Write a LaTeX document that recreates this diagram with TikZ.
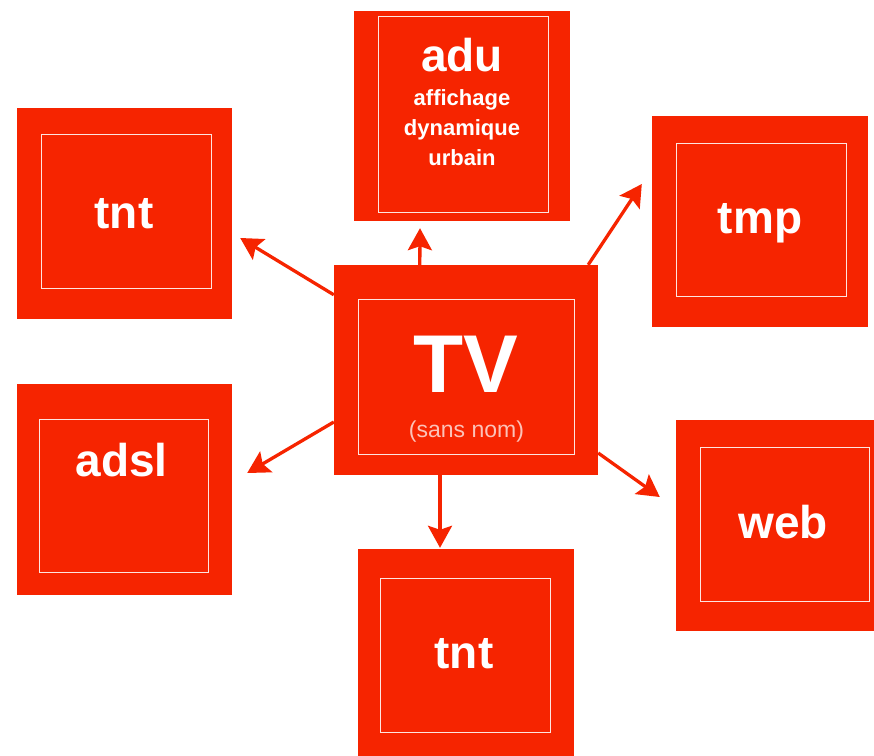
\documentclass[tikz,border=0pt]{standalone}
\usepackage{fontspec}
\setmainfont{Liberation Sans}
\usetikzlibrary{arrows.meta}
\usetikzlibrary{calc}
\definecolor{tvred}{RGB}{246,36,0}

\begin{document}
\begin{tikzpicture}[x=1pt,y=-1pt,->,>={Stealth[length=22pt,width=24pt,inset=4pt]},
        box/.style={rectangle,fill=tvred,inner sep=0pt,minimum width=216,minimum height=211},
        frame/.style={rectangle,draw=white!88!tvred,line width=0.9pt,inner sep=0pt,minimum width=170,minimum height=154},
        word/.style={anchor=base,text=white,inner sep=0pt,font=\bfseries\fontsize{46}{46}\selectfont},
        link/.style={draw=tvred,line width=3.3pt}]
        \useasboundingbox (0,0) rectangle (874,755);
        \clip (0,0) rectangle (874,755);
        % outer squares
        \node[box,minimum width=215] (tnt1) at (124.5,213.5) {};
        \node[box,minimum height=210] (adu)  at (462,116)     {};
        \node[box]                   (tmp)  at (760,221.5)   {};
        \node[box,minimum width=264,minimum height=210] (tv) at (466,370) {};
        \node[box,minimum width=215] (adsl) at (124.5,489.5) {};
        \node[box]                   (web)  at (784,525.5)   {};
        \node[box]                   (tnt2) at (466,654.5)   {};
        % inner frames
        \node[frame]                  (tnt1-f) at (126,211)     {};
        \node[frame,minimum height=196] (adu-f) at (463,114)   {};
        \node[frame,minimum height=153] (tmp-f) at (761,219.5) {};
        \node[frame,minimum width=216,minimum height=155] (tv-f) at (466,376.5) {};
        \node[frame,minimum width=169,minimum height=153] (adsl-f) at (123.5,495.5) {};
        \node[frame,minimum width=169] (web-f)  at (784.5,524) {};
        \node[frame]                  (tnt2-f) at (465,655)    {};
        % texts
        \node[word] (tnt1-t) at (124,228)   {tnt};
        \node[word] (adu-t)  at (462,71)    {adu};
        \node[word,font=\bfseries\fontsize{22}{30}\selectfont,align=center,anchor=north] (adu-d) at (462,89)
          {affichage\\dynamique\\urbain};
        \node[word] (tmp-t)  at (760,233)   {tmp};
        \node[word,font=\bfseries\fontsize{82}{82}\selectfont] (tv-t) at (466,392) {TV};
        \node[word,font=\fontsize{23}{23}\selectfont,text=white!72!tvred] (tv-s) at (466.5,437) {(sans nom)};
        \node[word] (adsl-t) at (121.5,476) {adsl};
        \node[word] (web-t)  at (783,538)   {web};
        \node[word] (tnt2-t) at (464,668)   {tnt};
        % arrows
        \draw[link] ($(tv.north west)+(0,30)$) -- ($(tnt1.east)+(8,24.5)$);
        \draw[link] ($(tv.north west)+(86,0)$) -- ($(adu.south)+(-42,7)$);
        \draw[link] ($(tv.north east)+(-10,0)$) -- ($(tmp.west)+(-10,-37.5)$);
        \draw[link] ($(tv.west)+(0,52)$) -- ($(adsl.east)+(15,-16.5)$);
        \draw[link] ($(tv.east)+(0,83)$) -- ($(web.west)+(-16,-28.5)$);
        \draw[link] ($(tv.south)+(-26,0)$) -- ($(tnt2.north)+(-26,-1)$);
\end{tikzpicture}
\end{document}
